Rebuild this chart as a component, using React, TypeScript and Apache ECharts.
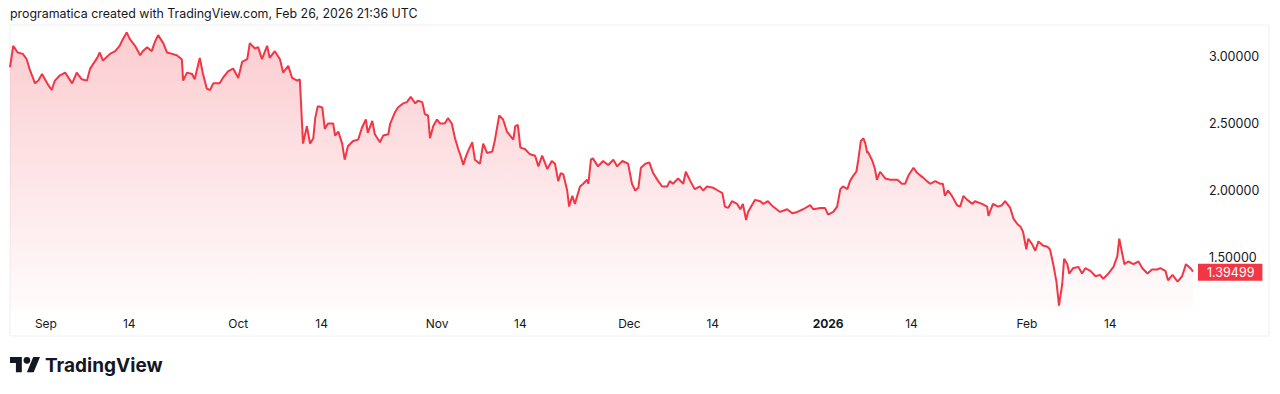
import React, { useEffect, useRef } from "react";
import * as echarts from "echarts";

// Days since 2025-09-01 (UTC) and price readings
const days = [
  -5.6, -5.1, -4.4, -3.6, -3.0, -2.5, -1.7, -1.2, -0.6, 0.2, 0.9, 1.4, 2.2, 3.0, 4.1, 4.8, 5.6, 6.4, 6.9, 8.0,
  8.4, 8.9, 10.0, 10.8, 11.5, 12.0, 12.6, 13.1, 13.9, 14.7, 15.1, 15.8, 16.5, 17.0, 17.5, 18.3, 18.9, 19.7, 20.4, 21.2,
  21.4, 22.0, 22.8, 23.2, 24.0, 24.5, 25.1, 25.6, 26.1, 27.1, 27.6, 28.4, 29.2, 30.0, 30.6, 31.4, 31.8, 32.6, 33.1, 33.7,
  34.5, 34.9, 35.7, 36.5, 37.0, 37.8, 38.4, 39.2, 39.6, 40.1, 40.7, 41.2, 41.7, 42.0, 42.4, 43.1, 43.5, 44.0, 44.8, 45.1,
  45.6, 46.2, 46.6, 47.1, 47.9, 48.7, 49.3, 49.9, 50.2, 50.9, 51.3, 52.1, 52.6, 53.4, 53.7, 54.4, 54.9, 55.7, 56.3, 56.9,
  57.6, 58.0, 58.7, 59.1, 59.6, 59.9, 60.4, 61.0, 61.5, 62.2, 62.7, 63.3, 63.8, 64.3, 64.6, 65.1, 65.4, 65.8, 66.5, 66.9,
  67.7, 68.2, 68.8, 69.6, 70.0, 70.7, 71.3, 71.9, 72.4, 72.9, 73.2, 73.6, 74.0, 74.7, 75.5, 76.3, 76.8, 77.4, 78.2, 78.9,
  79.4, 79.9, 80.3, 80.7, 81.3, 81.6, 82.1, 82.5, 83.3, 83.8, 84.4, 84.6, 85.0, 85.3, 86.1, 86.9, 87.7, 88.5, 89.1, 89.9,
  90.8, 91.4, 91.9, 92.4, 92.8, 93.5, 94.1, 94.7, 95.5, 96.1, 96.9, 97.3, 97.8, 98.6, 99.4, 99.8, 100.5, 101.2, 102.0, 102.5,
  103.1, 104.1, 104.8, 105.5, 105.9, 106.4, 107.0, 107.8, 108.3, 108.7, 109.2, 109.5, 110.1, 110.6, 111.4, 111.9, 112.6, 113.4, 114.5, 115.6,
  116.4, 117.2, 118.1, 119.2, 119.7, 120.8, 121.5, 122.0, 122.8, 123.4, 123.9, 124.3, 125.0, 125.4, 125.9, 126.4, 126.7, 127.1, 127.5, 127.8,
  128.1, 128.2, 128.9, 129.3, 129.6, 130.1, 130.9, 131.7, 132.8, 133.5, 134.0, 134.5, 135.3, 135.9, 136.7, 137.4, 137.9, 138.7, 139.5, 139.9,
  140.2, 140.7, 141.3, 142.1, 142.6, 143.1, 143.7, 144.5, 144.9, 146.0, 146.8, 147.0, 147.7, 148.5, 149.1, 149.6, 150.4, 150.9, 151.5, 152.0,
  152.4, 152.9, 153.2, 153.8, 154.3, 154.8, 155.5, 156.2, 156.6, 157.1, 157.6, 158.0, 158.5, 158.8, 159.3, 159.6, 160.2, 161.0, 161.6, 162.1,
  162.9, 163.7, 164.4, 164.9, 165.7, 166.5, 167.1, 167.4, 167.9, 168.2, 168.8, 169.6, 170.4, 171.0, 171.8, 172.5, 173.3, 173.8, 174.6, 175.0,
  175.7, 176.5, 177.2, 177.8, 178.5, 178.9,
];

const prices = [
  2.92, 3.08, 3.03, 3.02, 2.98, 2.9, 2.8, 2.82, 2.87, 2.8, 2.75, 2.82, 2.86, 2.88, 2.8, 2.88, 2.83, 2.82, 2.91, 2.99,
  3.03, 2.97, 3.02, 3.04, 3.08, 3.13, 3.18, 3.13, 3.08, 3.01, 3.04, 3.07, 3.04, 3.11, 3.16, 3.1, 3.03, 3.02, 3.01, 2.98,
  2.82, 2.88, 2.87, 2.83, 2.99, 2.87, 2.76, 2.75, 2.8, 2.8, 2.84, 2.89, 2.91, 2.84, 2.96, 2.98, 3.1, 3.06, 3.07, 2.98,
  3.08, 2.99, 3.04, 2.98, 2.88, 2.93, 2.84, 2.82, 2.83, 2.35, 2.48, 2.35, 2.39, 2.54, 2.63, 2.62, 2.46, 2.5, 2.5, 2.41,
  2.44, 2.35, 2.23, 2.33, 2.37, 2.38, 2.47, 2.53, 2.43, 2.52, 2.42, 2.36, 2.41, 2.42, 2.5, 2.58, 2.62, 2.65, 2.66, 2.7,
  2.65, 2.67, 2.66, 2.57, 2.56, 2.39, 2.48, 2.53, 2.5, 2.5, 2.54, 2.5, 2.39, 2.31, 2.27, 2.19, 2.24, 2.29, 2.36, 2.23,
  2.2, 2.35, 2.28, 2.29, 2.37, 2.56, 2.53, 2.44, 2.41, 2.38, 2.48, 2.49, 2.32, 2.31, 2.27, 2.26, 2.18, 2.26, 2.16, 2.22,
  2.2, 2.07, 2.13, 2.12, 2.0, 1.88, 1.96, 1.9, 2.03, 2.05, 2.08, 2.05, 2.23, 2.24, 2.18, 2.22, 2.19, 2.23, 2.18, 2.22,
  2.2, 2.05, 2.0, 2.02, 2.17, 2.2, 2.21, 2.13, 2.07, 2.03, 2.03, 2.07, 2.05, 2.09, 2.05, 2.14, 2.07, 2.01, 2.03, 2.0,
  2.03, 2.02, 2.0, 1.98, 1.88, 1.87, 1.92, 1.9, 1.86, 1.9, 1.78, 1.84, 1.89, 1.93, 1.92, 1.9, 1.92, 1.88, 1.84, 1.86,
  1.83, 1.84, 1.86, 1.89, 1.86, 1.87, 1.87, 1.82, 1.84, 1.88, 2.01, 2.03, 2.01, 2.07, 2.11, 2.14, 2.23, 2.37, 2.39, 2.35,
  2.28, 2.29, 2.22, 2.16, 2.08, 2.14, 2.09, 2.08, 2.08, 2.05, 2.05, 2.11, 2.17, 2.13, 2.1, 2.07, 2.05, 2.07, 2.05, 2.05,
  1.96, 2.0, 1.96, 1.89, 1.88, 1.96, 1.93, 1.9, 1.92, 1.9, 1.88, 1.81, 1.9, 1.88, 1.89, 1.92, 1.87, 1.79, 1.75, 1.73,
  1.69, 1.56, 1.64, 1.6, 1.55, 1.62, 1.59, 1.58, 1.56, 1.45, 1.32, 1.14, 1.3, 1.49, 1.45, 1.38, 1.42, 1.43, 1.38, 1.42,
  1.4, 1.36, 1.37, 1.34, 1.38, 1.43, 1.51, 1.64, 1.52, 1.45, 1.47, 1.45, 1.47, 1.42, 1.38, 1.41, 1.41, 1.42, 1.4, 1.33,
  1.37, 1.32, 1.36, 1.45, 1.42, 1.39499,
];

const lastPrice = 1.39499;
const tickDays = [0, 13, 30, 43, 61, 74, 91, 104, 122, 135, 153, 166];
const tickLabels = ["Sep", "14", "Oct", "14", "Nov", "14", "Dec", "14", "2026", "14", "Feb", "14"];
const priceTicks = [1.5, 2.0, 2.5, 3.0];
const titleText = "programatica created with TradingView.com, Feb 26, 2026 21:36 UTC";

const TV_LOGO = "M14 22H7V11H0V4h14v18zM28 22h-8l7.5-18h8L28 22zM24 8a4 4 0 1 1-8 0a4 4 0 1 1 8 0z";

let registered = false;

export default function App() {
  const ref = useRef<HTMLDivElement>(null);

  useEffect(() => {
    if (!ref.current) return;
    if (!registered) {
      echarts.graphic.registerShape("tvlogo", echarts.graphic.extendPath(TV_LOGO, {}) as any);
      registered = true;
    }
    const chart = echarts.init(ref.current, undefined, { renderer: "svg" });
    const font = "Inter, 'Noto Sans', sans-serif";
    const data = days.map((d, i) => [d, prices[i]]);
    chart.setOption({
      animation: false,
      backgroundColor: "#ffffff",
      textStyle: { fontFamily: font },
      title: {
        text: titleText,
        left: 10,
        top: 7,
        padding: 0,
        textStyle: { fontSize: 12.4, fontWeight: "normal", color: "#131722", fontFamily: font },
      },
      grid: { left: 10, right: 87, top: 26, bottom: 82 },
      xAxis: {
        type: "value",
        min: days[0],
        max: days[days.length - 1],
        axisLine: { show: false },
        axisTick: { show: false },
        splitLine: { show: false },
        axisLabel: {
          customValues: tickDays,
          margin: 5,
          fontSize: 12,
          color: "#131722",
          fontFamily: font,
          formatter: (v: number) => {
            const i = tickDays.indexOf(v);
            const t = i >= 0 ? tickLabels[i] : "";
            return t === "2026" ? "{b|" + t + "}" : t;
          },
          rich: { b: { fontWeight: "bold", fontSize: 12, color: "#131722", fontFamily: font } },
        },
      },
      yAxis: {
        type: "value",
        position: "right",
        min: 1.093,
        max: 3.228,
        axisLine: { show: false },
        axisTick: { show: false },
        splitLine: { show: false },
        axisLabel: {
          customValues: priceTicks,
          margin: 16,
          fontSize: 12.5,
          color: "#131722",
          fontFamily: font,
          formatter: (v: number) => v.toFixed(5),
        },
      },
      series: [
        {
          type: "line",
          data,
          showSymbol: false,
          symbol: "none",
          lineStyle: { color: "#F23645", width: 2 },
          areaStyle: {
            origin: "start",
            color: new echarts.graphic.LinearGradient(0, 0, 0, 1, [
              { offset: 0, color: "rgba(242,54,69,0.36)" },
              { offset: 1, color: "rgba(242,54,69,0.02)" },
            ]),
          },
          markLine: {
            silent: true,
            symbol: "none",
            lineStyle: { color: "rgba(0,0,0,0)", width: 0 },
            data: [{ yAxis: lastPrice }],
            label: {
              show: true,
              position: "end",
              distance: 5,
              formatter: () => lastPrice.toFixed(5),
              color: "#ffffff",
              backgroundColor: "#F23645",
              padding: [2, 8, 2, 9],
              fontSize: 12.5,
              fontFamily: font,
            },
          },
        },
      ],
      graphic: [
        {
          type: "rect",
          silent: true,
          shape: { x: 10, y: 25, width: 1259, height: 311 },
          style: { fill: "none", stroke: "#eef0f4", lineWidth: 1 },
        },
        {
          type: "tvlogo",
          x: 10,
          y: 353.6,
          scaleX: 0.845,
          scaleY: 0.845,
          style: { fill: "#131722" },
        },
        {
          type: "text",
          x: 45,
          y: 365,
          style: {
            text: "TradingView",
            fill: "#131722",
            font: "bold 19px " + font,
            textVerticalAlign: "middle",
          },
        },
      ],
    });
    return () => chart.dispose();
  }, []);

  return (
    <div
      ref={ref}
      style={{ position: "fixed", left: 0, top: 0, width: 1280, height: 394 }}
    />
  );
}
